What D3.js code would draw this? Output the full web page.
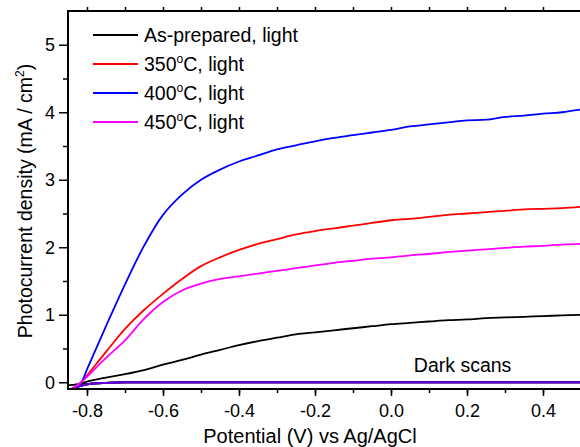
<!DOCTYPE html>
<html>
<head>
<meta charset="utf-8">
<script src="https://cdn.jsdelivr.net/npm/d3@7"></script>
<style>
  body { margin: 0; background: #fff; }
  svg { font-family: "Liberation Sans", Arial, sans-serif; }
</style>
</head>
<body>
<svg id="chart" width="580" height="447"></svg>
<script>
// potentials (V vs Ag/AgCl)
const potential = [-0.84, -0.815, -0.8, -0.75, -0.7, -0.65, -0.6, -0.55, -0.5, -0.45, -0.4, -0.35, -0.3, -0.25, -0.2, -0.15, -0.1, -0.05, 0.0, 0.05, 0.1, 0.15, 0.2, 0.25, 0.3, 0.35, 0.4, 0.45, 0.5];

const asPrepared = [-0.04, -0.02, 0.01, 0.07, 0.12, 0.18, 0.26, 0.33, 0.41, 0.48, 0.55, 0.61, 0.66, 0.71, 0.74, 0.77, 0.8, 0.83, 0.86, 0.88, 0.9, 0.92, 0.93, 0.95, 0.96, 0.97, 0.98, 0.99, 1.0];
const asPreparedStart = [-0.85, -0.045];
const t350 = [-0.1, 0, 0.1, 0.45, 0.79, 1.07, 1.31, 1.53, 1.72, 1.85, 1.96, 2.05, 2.12, 2.19, 2.24, 2.28, 2.32, 2.36, 2.4, 2.42, 2.45, 2.48, 2.5, 2.52, 2.54, 2.56, 2.57, 2.58, 2.6];
const t400 = [-0.1, 0, 0.19, 0.83, 1.45, 2.02, 2.48, 2.78, 3.0, 3.15, 3.27, 3.36, 3.45, 3.51, 3.57, 3.62, 3.66, 3.7, 3.74, 3.79, 3.82, 3.85, 3.88, 3.89, 3.93, 3.95, 3.98, 4.0, 4.04];
const t450 = [-0.1, 0, 0.08, 0.36, 0.62, 0.94, 1.19, 1.36, 1.46, 1.53, 1.57, 1.61, 1.65, 1.69, 1.73, 1.77, 1.8, 1.83, 1.85, 1.88, 1.9, 1.93, 1.95, 1.97, 1.99, 2.01, 2.02, 2.04, 2.05];
const dark = [-0.1, -0.05, -0.03, -0.01, 0, 0, 0, 0, 0, 0, 0, 0, 0, 0, 0, 0, 0, 0, 0, 0, 0, 0, 0, 0, 0, 0, 0, 0, 0];

const lightNames = ['As-prepared, light', '350°C, light', '400°C, light', '450°C, light'];
const lightSeries = [asPrepared, t350, t400, t450];
const lightColors = ['#000000', '#ff0000', '#0000ff', '#ff00ff'];
const darkColors = ['#000000', '#ff0000', '#008000', '#0000ff', '#6a00d8'];

const xTicks = [-0.8, -0.6, -0.4, -0.2, 0.0, 0.2, 0.4];
const yTicks = [0, 1, 2, 3, 4, 5];

const svg = d3.select('#chart');
const margin = { top: 11, right: -1, bottom: 58, left: 68 };
const width = 580 - margin.left - margin.right;
const height = 447 - margin.top - margin.bottom;

const x = d3.scaleLinear().domain([-0.85, 0.5]).range([0, width]);
const y = d3.scaleLinear().domain([-0.1, 5.5]).range([height, 0]);

const g = svg.append('g').attr('transform', `translate(${margin.left},${margin.top})`);

const line = d3.line().x((d) => x(d[0])).y((d) => y(d[1])).curve(d3.curveCatmullRom.alpha(0.5));

// dark scans
darkColors.forEach((c) => {
  g.append('path')
    .datum(potential.map((p, i) => [p, dark[i]]))
    .attr('d', line)
    .attr('fill', 'none')
    .attr('stroke', c)
    .attr('stroke-width', 2);
});

// light scans
lightSeries.forEach((s, k) => {
  const pts = potential.map((p, i) => [p, s[i]]);
  if (k === 0) pts.unshift(asPreparedStart);
  g.append('path')
    .datum(pts)
    .attr('d', line)
    .attr('fill', 'none')
    .attr('stroke', lightColors[k])
    .attr('stroke-width', 1.8);
});

// axes
const fmtX = (d) => d3.format('.1f')(d).replace('−', '-');
g.append('g')
  .attr('transform', `translate(0,${height})`)
  .call(d3.axisBottom(x).tickValues(d3.range(-0.8, 0.51, 0.1)).tickSize(4).tickFormat(''))
  .call((a) => a.select('.domain').remove());
g.append('g')
  .attr('transform', `translate(0,${height})`)
  .call(d3.axisBottom(x).tickValues(xTicks).tickSize(7).tickPadding(8).tickFormat(fmtX))
  .call((a) => a.select('.domain').remove())
  .selectAll('text').attr('font-size', 18).attr('fill', '#000');

g.append('g')
  .call(d3.axisLeft(y).tickValues(d3.range(0.5, 5.1, 1)).tickSize(5).tickFormat(''))
  .call((a) => a.select('.domain').remove());
g.append('g')
  .call(d3.axisLeft(y).tickValues(yTicks).tickSize(9).tickPadding(4).tickFormat(d3.format('d')))
  .call((a) => a.select('.domain').remove())
  .selectAll('text').attr('font-size', 18).attr('fill', '#000');

// top ticks
g.append('g')
  .call(d3.axisTop(x).tickValues(d3.range(-0.8, 0.51, 0.1)).tickSize(4).tickFormat(''))
  .call((a) => a.select('.domain').remove());

svg.selectAll('.tick line').attr('stroke', '#000').attr('stroke-width', 1.5);

// frame
g.append('path')
  .attr('d', `M${width},0H0V${height}H${width}`)
  .attr('fill', 'none')
  .attr('stroke', '#000')
  .attr('stroke-width', 2);

// legend
const legend = g.append('g').attr('transform', 'translate(25,24)');
lightNames.forEach((n, i) => {
  const row = legend.append('g').attr('transform', `translate(0,${i * 29})`);
  row.append('line').attr('x1', 0).attr('x2', 45).attr('stroke', lightColors[i]).attr('stroke-width', 1.8);
  const t = row.append('text').attr('x', 51).attr('y', 7).attr('font-size', 19.5);
  const m = n.match(/^(\d+)°C(.*)$/);
  if (m) {
    t.append('tspan').text(m[1]);
    t.append('tspan').text('o').attr('font-size', 12).attr('dy', -8);
    t.append('tspan').text('C' + m[2]).attr('dy', 8);
  } else {
    t.text(n);
  }
});

g.append('text')
  .attr('x', x(0.06))
  .attr('y', 361)
  .attr('font-size', 19.5)
  .text('Dark scans');

// axis titles
svg.append('text')
  .attr('x', 310)
  .attr('y', 443)
  .attr('text-anchor', 'middle')
  .attr('font-size', 20)
  .text('Potential (V) vs Ag/AgCl');

const yl = svg.append('text')
  .attr('transform', 'translate(32,201) rotate(-90)')
  .attr('text-anchor', 'middle')
  .attr('font-size', 19.5);
yl.append('tspan').text('Photocurrent density (mA / cm');
yl.append('tspan').text('2').attr('font-size', 12).attr('dy', -8);
yl.append('tspan').text(')').attr('dy', 8);
</script>
</body>
</html>
